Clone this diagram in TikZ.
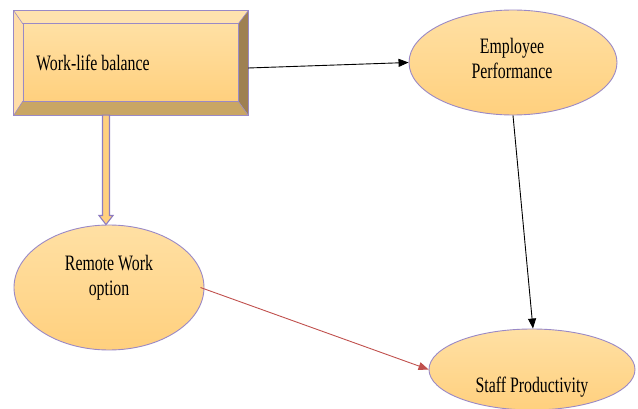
\documentclass[tikz,border=0pt]{standalone}
\usepackage{fontspec}
\setmainfont[FakeStretch=0.72]{Liberation Serif}
\usetikzlibrary{shapes.geometric,arrows.meta,calc}

\definecolor{edgepurple}{HTML}{9A89C6}
\definecolor{arrowpurple}{HTML}{8E7CC0}
\definecolor{facetop}{HTML}{FFE2AE}
\definecolor{faceleft}{HTML}{FFDDA8}
\definecolor{faceright}{HTML}{9E8052}
\definecolor{facebottom}{HTML}{C9A664}
\definecolor{fillhi}{HTML}{FFE0A4}
\definecolor{filllo}{HTML}{FFD07E}
\definecolor{linkred}{HTML}{C0504D}

\tikzset{
  factor/.style={ellipse, draw=edgepurple, line width=0.9pt,
    top color=fillhi, bottom color=filllo, inner sep=0pt},
  lbl/.style={font=\fontsize{22}{25}\selectfont, align=center, inner sep=0pt},
  link/.style={line width=0.9pt, -{Triangle[length=10pt,width=8pt]}},
  facet/.style={draw=edgepurple, line width=0.6pt},
}

\begin{document}
\begin{tikzpicture}[x=1pt, y=-1pt]
  \useasboundingbox (0,0) rectangle (638,409);
  \clip (0,0) rectangle (638,409);

  % bevelled box: outer frame, four slanted facets and the raised face
  \node[rectangle, minimum width=234pt, minimum height=104pt, inner sep=0pt]
    (wlb) at (131,63) {};
  \coordinate (inw) at ($(wlb.north west)+(9,13)$);
  \coordinate (ine) at ($(wlb.north east)+(-10,13)$);
  \coordinate (isw) at ($(wlb.south west)+(9,-14)$);
  \coordinate (ise) at ($(wlb.south east)+(-10,-14)$);
  \fill[facetop]    (wlb.north west) -- (wlb.north east) -- (ine) -- (inw) -- cycle;
  \fill[faceleft]   (wlb.north west) -- (inw) -- (isw) -- (wlb.south west) -- cycle;
  \fill[faceright]  (wlb.north east) -- (wlb.south east) -- (ise) -- (ine) -- cycle;
  \fill[facebottom] (wlb.south west) -- (isw) -- (ise) -- (wlb.south east) -- cycle;
  \shade[top color=fillhi, bottom color=filllo] (inw) rectangle (ise);
  \draw[facet] (inw) rectangle (ise);
  \draw[facet] (wlb.north west) -- (inw) (wlb.north east) -- (ine)
               (wlb.south west) -- (isw) (wlb.south east) -- (ise);
  \draw[edgepurple, line width=1pt] (wlb.north west) rectangle (wlb.south east);
  \node[lbl, anchor=base west] (wlbtext) at (36,71) {Work-life balance};

  % the three ellipses
  \node[factor, minimum width=208pt, minimum height=105pt] (perf) at (513,62.5) {};
  \node[factor, minimum width=190pt, minimum height=125pt] (rw) at (109,287.5) {};
  \node[factor, minimum width=206pt, minimum height=81pt] (staff) at (532,369.5) {};

  \node[lbl] (perftext) at (512,58) {Employee\\Performance};
  \node[lbl] (rwtext) at (109,277.5) {Remote Work\\option};
  \node[lbl, anchor=base] (stafftext) at (532,392) {Staff Productivity};

  % hollow block arrow from the box down to the lower-left ellipse
  \coordinate (bt) at ($(rw.north |- wlb.south)+(-3,0)$);
  \coordinate (bh) at ($(rw.north)+(-3,0)$);
  \filldraw[fill=filllo, draw=arrowpurple, line width=1.1pt, line join=miter]
    ($(bt)+(-3.5,0)$) -- ($(bh)+(-3.5,-9)$) -- ($(bh)+(-7,-9)$) -- (bh)
    -- ($(bh)+(7,-9)$) -- ($(bh)+(3.5,-9)$) -- ($(bt)+(3.5,0)$) -- cycle;

  % connectors
  \draw[link] ($(wlb.east)+(0,5)$) -- (perf.west);
  \draw[link] (perf.south) -- ($(staff.north)+(1,0)$);
  \draw[link, linkred] ($(rw.east)+(-4,0)$) -- (staff.west);
\end{tikzpicture}
\end{document}
